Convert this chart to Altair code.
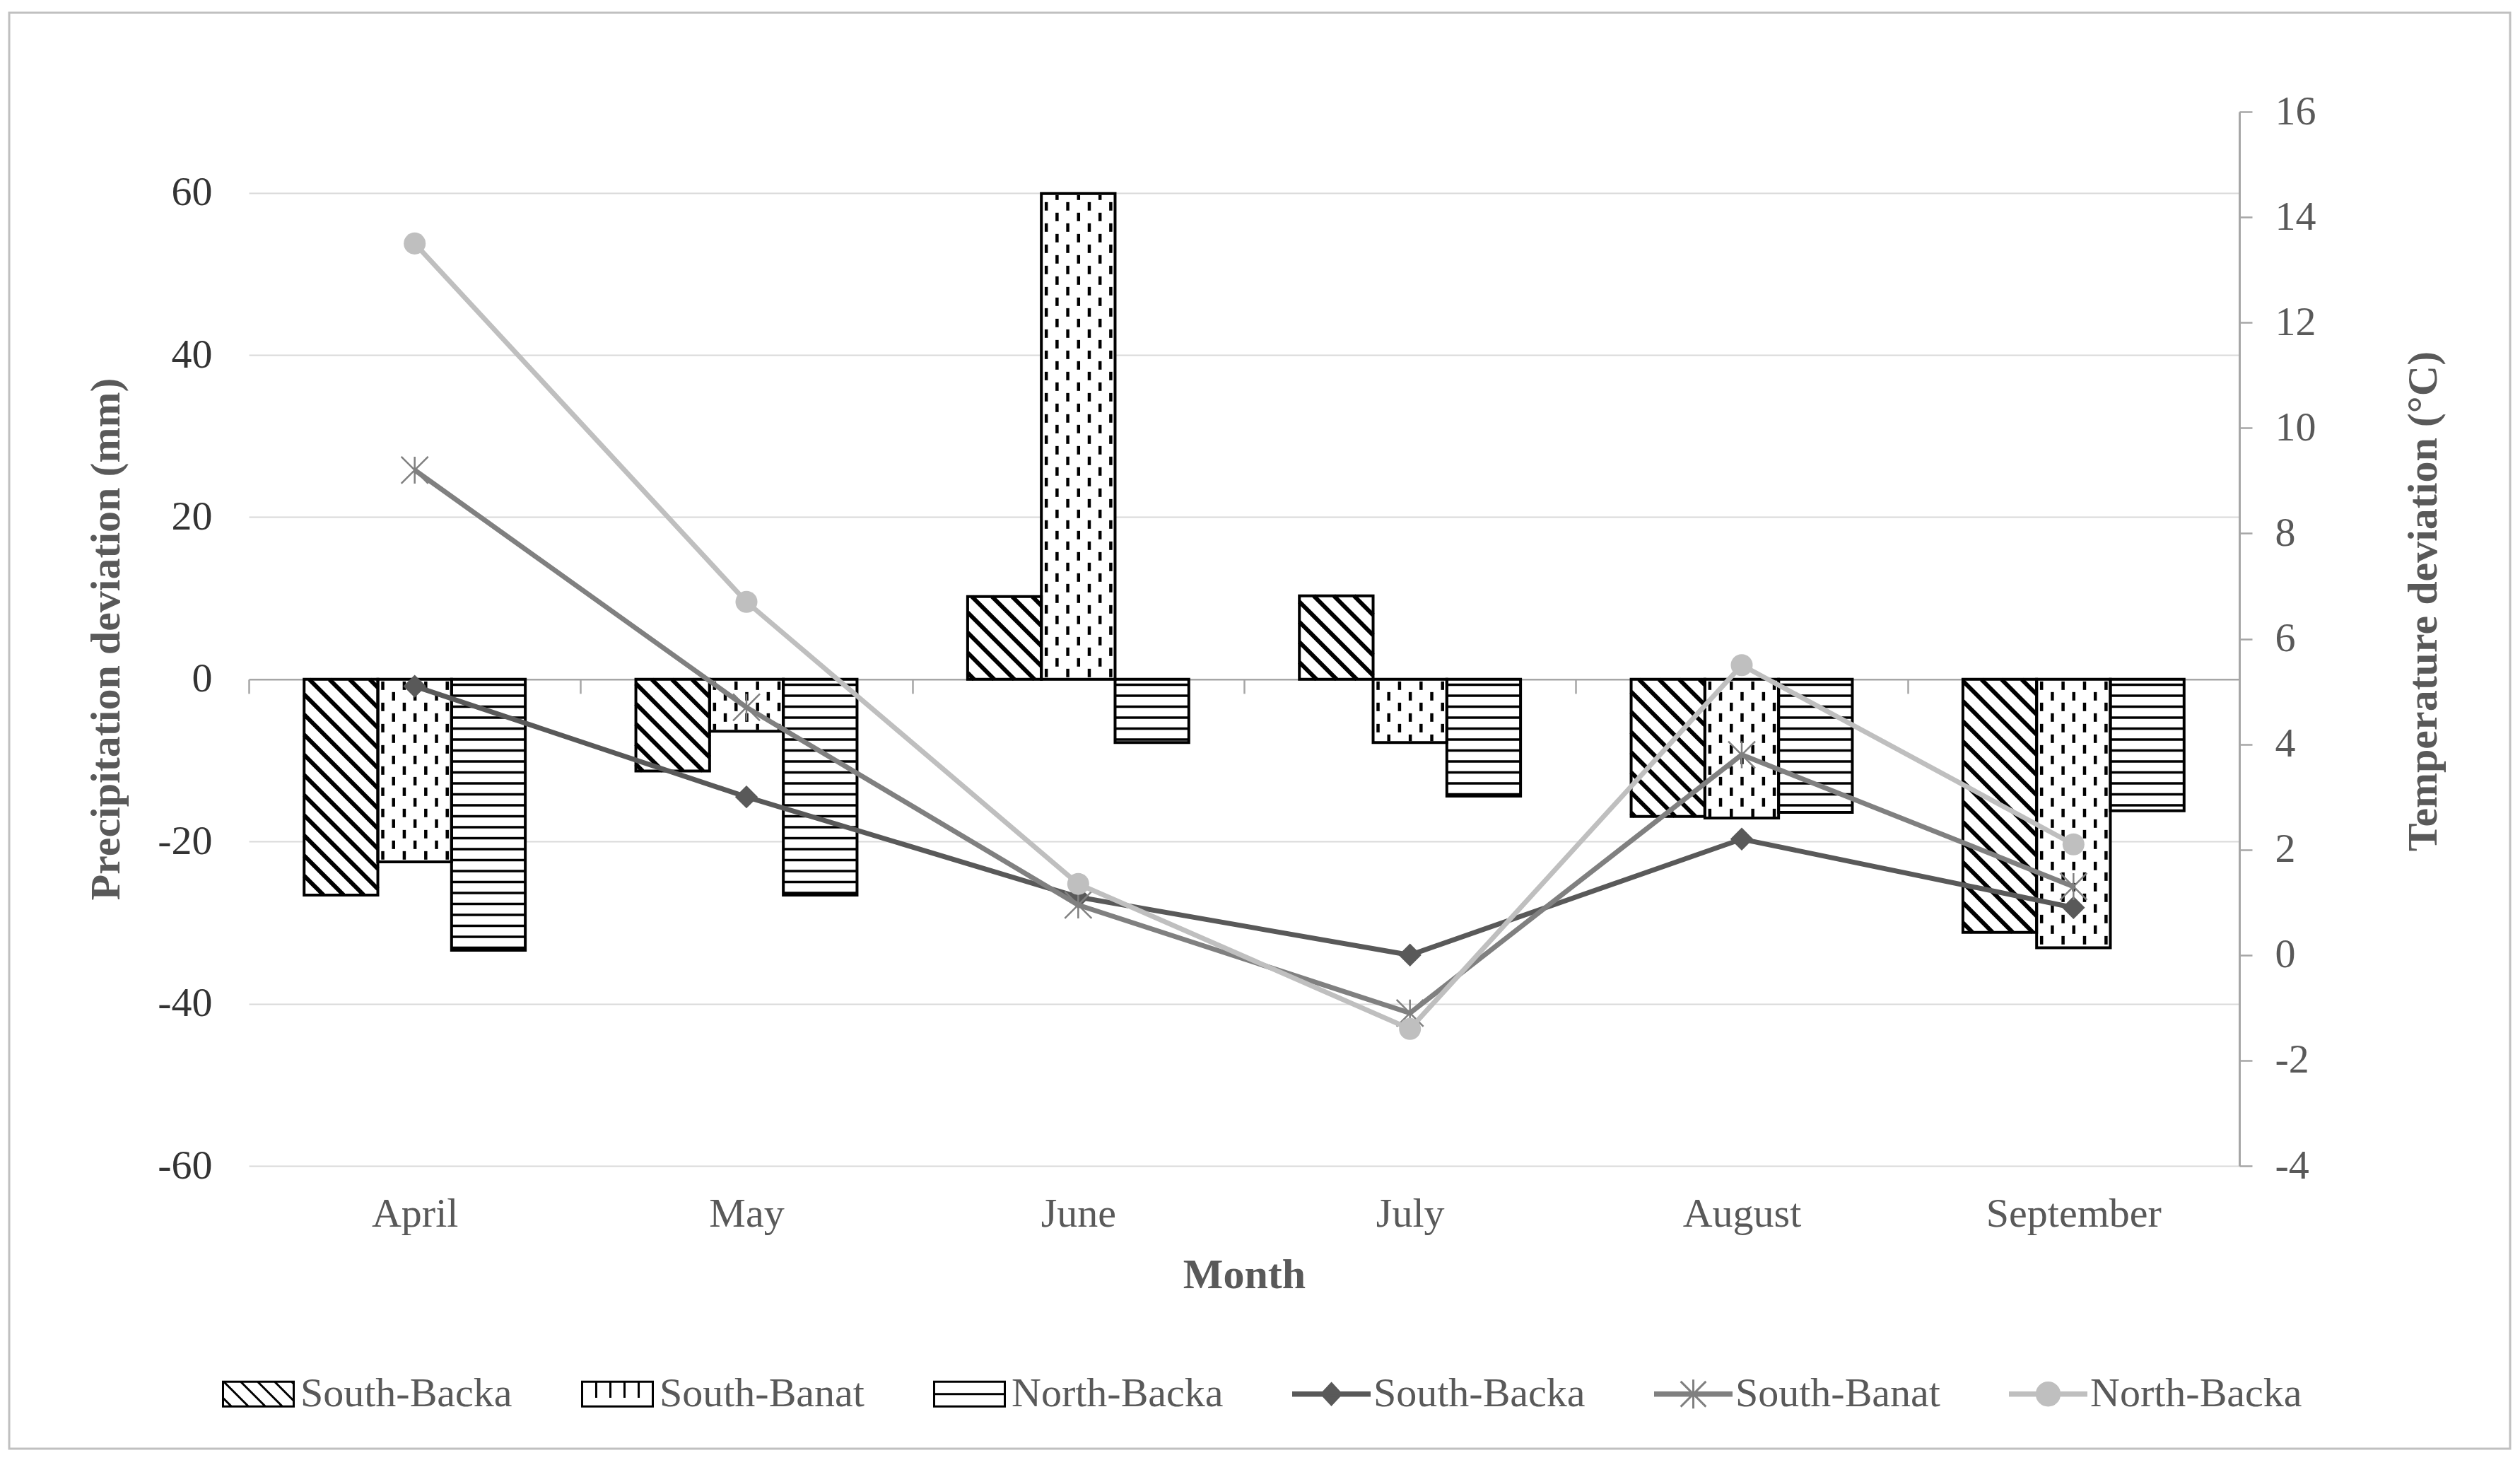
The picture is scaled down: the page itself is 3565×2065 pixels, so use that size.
import math
import altair as alt
import pandas as pd

# ---------------- data ----------------
months = ["April", "May", "June", "July", "August", "September"]
series = ["South-Backa", "South-Banat", "North-Backa"]

precip_south_backa = [-26.6, -11.3, 10.2, 10.3, -16.9, -31.2]
precip_south_banat = [-22.5, -6.4, 59.9, -7.8, -17.1, -33.1]
precip_north_backa = [-33.4, -26.6, -7.8, -14.4, -16.4, -16.2]

temp_south_backa = [5.1, 3.0, 1.1, 0.0, 2.2, 0.9]
temp_south_banat = [9.2, 4.7, 0.95, -1.1, 3.8, 1.3]
temp_north_backa = [13.5, 6.7, 1.35, -1.4, 5.5, 2.1]

precip_ticks = [-60, -40, -20, 0, 20, 40, 60]
temp_ticks = [-4, -2, 0, 2, 4, 6, 8, 10, 12, 14, 16]

# ---------------- layout / style ----------------
FONT = "Liberation Serif"
W, H = 2816, 1491
P_DOM = [-60, 70]
T_DOM = [-4, 16]
SX = W / len(months)                  # px per month unit
SY = H / (P_DOM[1] - P_DOM[0])        # px per mm
GROUP = 2 / 3
BAR = GROUP / 3
ZERO_FROM_BOTTOM = (0 - P_DOM[0]) / (P_DOM[1] - P_DOM[0]) * H
ZERO_FROM_TOP = H - ZERO_FROM_BOTTOM
AXGRAY = "#a6a6a6"
LINE_COLORS = ["#595959", "#808080", "#bfbfbf"]

precip = [precip_south_backa, precip_south_banat, precip_north_backa]
temps = [temp_south_backa, temp_south_banat, temp_north_backa]

# bar table
bar_rows = []
for k, vals in enumerate(precip):
    for i, v in enumerate(vals):
        x0 = i + 0.5 - GROUP / 2 + k * BAR
        bar_rows.append({"series": series[k], "month": months[i], "x0": x0, "x1": x0 + BAR, "v": v})
bars_df = pd.DataFrame(bar_rows)

# hatch patterns (derived from the bar table)
D_DIAG = 28.5
DASH_DX, DASH_PERIOD, DASH_LEN = 15.2, 30.0, 12.0
H_GAP = 15.5
diag, dash, hl = [], [], []
for r in bar_rows:
    k = series.index(r["series"])
    v = r["v"]
    X0, X1 = r["x0"] * SX, r["x1"] * SX
    sgn = 1 if v >= 0 else -1
    L = abs(v) * SY
    if k == 0:
        Ya, Yb = min(v, 0) * SY, max(v, 0) * SY
        c = math.ceil((X0 + Ya) / D_DIAG) * D_DIAG
        while c <= X1 + Yb:
            xs_, xe_ = max(X0, c - Yb), min(X1, c - Ya)
            if xe_ - xs_ > 1:
                diag.append({"x": xs_ / SX, "x2": xe_ / SX, "y": (c - xs_) / SY, "y2": (c - xe_) / SY})
            c += D_DIAG
    elif k == 1:
        j = 0
        while True:
            Xc = X0 + 7 + j * DASH_DX
            if Xc > X1 - 4:
                break
            d = 3 + (j % 2) * DASH_PERIOD / 2
            while d < L - 2:
                de = min(d + DASH_LEN, L - 2)
                if de - d > 2:
                    dash.append({"x": Xc / SX, "y": sgn * d / SY, "y2": sgn * de / SY})
                d += DASH_PERIOD
            j += 1
    else:
        d = H_GAP / 2
        while d < L - 2:
            hl.append({"x": X0 / SX, "x2": X1 / SX, "y": sgn * d / SY})
            d += H_GAP
diag_df, dash_df, hl_df = pd.DataFrame(diag), pd.DataFrame(dash), pd.DataFrame(hl)

xs = alt.Scale(domain=[0, len(months)], nice=False, zero=False)
ps = alt.Scale(domain=P_DOM, nice=False, zero=False)
ts = alt.Scale(domain=T_DOM, nice=False, zero=False)

# ---------------- axes ----------------
x_axis = alt.Axis(
    title="Month", orient="bottom", offset=-ZERO_FROM_BOTTOM,
    domain=True, domainColor=AXGRAY, domainWidth=2.5,
    ticks=True, tickBand="extent", tickSize=20, tickColor=AXGRAY, tickWidth=2.5,
    grid=False, labelAngle=0, labelBaseline="middle", labelLimit=2000,
    labelPadding=ZERO_FROM_BOTTOM + 68 - 20,
    labelFont=FONT, labelFontSize=58, labelColor="#595959",
    titleFont=FONT, titleFontSize=60, titleFontWeight="bold", titleColor="#595959",
    titleX=W / 2, titleY=1645 - ZERO_FROM_TOP, titleAlign="center", titleBaseline="middle",
)
left_axis = alt.Axis(
    title="Precipitation deviation (mm)", values=precip_ticks,
    grid=True, gridWidth=2,
    gridColor={"condition": {"test": "datum.value === 0", "value": "transparent"}, "value": "#d9d9d9"},
    domain=False, ticks=False, labelPadding=52, labelExpr="datum.value + ''",
    labelFont=FONT, labelFontSize=58, labelColor="#333333",
    titleFont=FONT, titleFontSize=60, titleFontWeight="bold", titleColor="#595959",
    titleAngle=270, titleX=-202, titleY=H / 2, titleAlign="center", titleBaseline="middle",
)
right_axis = alt.Axis(
    title="Temperature deviation (°C)", orient="right", values=temp_ticks, grid=False,
    domain=True, domainColor=AXGRAY, domainWidth=3,
    ticks=True, tickColor=AXGRAY, tickWidth=2.5, tickSize=18,
    labelPadding=32, labelExpr="datum.value + ''",
    labelFont=FONT, labelFontSize=58, labelColor="#595959",
    titleFont=FONT, titleFontSize=60, titleFontWeight="bold", titleColor="#595959",
    titleAngle=270, titleX=260, titleY=692, titleAlign="center", titleBaseline="middle",
)

# ---------------- layers ----------------
frame = alt.Chart(pd.DataFrame({"a": [0]})).mark_rect(
    fillOpacity=0, stroke="#c0c0c0", strokeWidth=3
).encode(x=alt.value(-339), x2=alt.value(W + 383), y=alt.value(-140), y2=alt.value(H + 400))

xaxis_layer = alt.Chart(pd.DataFrame({"month": months})).mark_bar(opacity=0).encode(
    x=alt.X("month:N", sort=months,
            scale=alt.Scale(type="band", domain=months, paddingInner=0, paddingOuter=0),
            axis=x_axis)
)

bar_fill = alt.Chart(bars_df).mark_rect(fill="white", strokeWidth=0).encode(
    x=alt.X("x0:Q", scale=xs, axis=None), x2="x1:Q",
    y=alt.Y("v:Q", scale=ps, axis=left_axis), y2=alt.datum(0),
)
diag_layer = alt.Chart(diag_df).mark_rule(color="black", strokeWidth=6).encode(
    x=alt.X("x:Q", scale=xs, axis=None), x2="x2:Q",
    y=alt.Y("y:Q", scale=ps, axis=None), y2="y2:Q",
)
dash_layer = alt.Chart(dash_df).mark_rule(color="black", strokeWidth=4.5).encode(
    x=alt.X("x:Q", scale=xs, axis=None),
    y=alt.Y("y:Q", scale=ps, axis=None), y2="y2:Q",
)
hl_layer = alt.Chart(hl_df).mark_rule(color="black", strokeWidth=3.5).encode(
    x=alt.X("x:Q", scale=xs, axis=None), x2="x2:Q",
    y=alt.Y("y:Q", scale=ps, axis=None),
)
bar_outline = alt.Chart(bars_df).mark_rect(
    fillOpacity=0, stroke="black", strokeWidth=4, strokeJoin="miter"
).encode(
    x=alt.X("x0:Q", scale=xs, axis=None), x2="x1:Q",
    y=alt.Y("v:Q", scale=ps, axis=None), y2=alt.datum(0),
)

ASTER = "M-1,-1L1,1M-1,1L1,-1M0,-1L0,1"
marker_specs = [
    dict(shape="diamond", filled=True, size=1050, strokeWidth=0),
    dict(shape=ASTER, filled=False, size=1444, strokeWidth=2.5),
    dict(shape="circle", filled=True, size=962, strokeWidth=0),
]
temp_layers = []
for k, vals in enumerate(temps):
    df = pd.DataFrame({"xm": [i + 0.5 for i in range(len(months))], "t": vals, "month": months})
    line = alt.Chart(df).mark_line(color=LINE_COLORS[k], strokeWidth=7).encode(
        x=alt.X("xm:Q", scale=xs, axis=None),
        y=alt.Y("t:Q", scale=ts, axis=right_axis if k == 0 else None),
    )
    pts = alt.Chart(df).mark_point(color=LINE_COLORS[k], opacity=1, **marker_specs[k]).encode(
        x=alt.X("xm:Q", scale=xs, axis=None),
        y=alt.Y("t:Q", scale=ts, axis=None),
    )
    temp_layers += [line, pts]

# ---------------- legend (symbols as custom paths) ----------------
U = 54.0
bw, bh = 50 / U, 17.5 / U


def n(v):
    return f"{v:.3f}"


box = f"M{n(-bw)},{n(-bh)}L{n(bw)},{n(-bh)}L{n(bw)},{n(bh)}L{n(-bw)},{n(bh)}Z"
sp = 24 / U
dg = ""
c = -bw - bh + sp / 2
while c < bw + bh:
    x_s, x_e = max(-bw, c - bh), min(bw, c + bh)
    if x_e - x_s > 0.02:
        dg += f"M{n(x_s)},{n(x_s - c)}L{n(x_e)},{n(x_e - c)}"
    c += sp
ds = "".join(f"M{n(-bw + kk * 2 * bw / 5)},{n(-bh)}L{n(-bw + kk * 2 * bw / 5)},{n(bh * 0.3)}" for kk in range(1, 5))
hz = f"M{n(-bw)},0L{n(bw)},0"
lr = "M-1,-0.04L1,-0.04L1,0.04L-1,0.04Z"
leg_shapes = [
    box + dg,
    box + ds,
    box + hz,
    lr + "M0,-0.28L0.26,0L0,0.28L-0.26,0Z",
    lr + "M-0.33,-0.33L0.33,0.33M-0.33,0.33L0.33,-0.33M0,-0.38L0,0.38",
    lr + "M0.3,0A0.3,0.3,0,1,1,-0.3,0A0.3,0.3,0,1,1,0.3,0Z",
]
leg_keys = ["P " + s for s in series] + ["T " + s for s in series]
leg_fills = ["white", "white", "white"] + LINE_COLORS
leg_strokes = ["black", "black", "black"] + LINE_COLORS

leg = alt.Legend(
    title=None, orient="none", legendX=-42, legendY=1758, direction="horizontal",
    columns=6, columnPadding=92, labelOffset=4, padding=0,
    labelFont=FONT, labelFontSize=58, labelColor="#595959", labelLimit=1000,
    symbolSize=U * U * 4, symbolStrokeWidth=3, labelExpr="slice(datum.label, 2)",
)
legend_layer = alt.Chart(pd.DataFrame({"key": leg_keys})).transform_filter("false").mark_point(
    opacity=1, strokeWidth=3
).encode(
    shape=alt.Shape("key:N", scale=alt.Scale(domain=leg_keys, range=leg_shapes), legend=leg),
    fill=alt.Fill("key:N", scale=alt.Scale(domain=leg_keys, range=leg_fills), legend=leg),
    stroke=alt.Stroke("key:N", scale=alt.Scale(domain=leg_keys, range=leg_strokes), legend=leg),
)

chart = alt.layer(
    frame, xaxis_layer, bar_fill, diag_layer, dash_layer, hl_layer, bar_outline,
    *temp_layers, legend_layer,
).resolve_scale(x="independent", y="independent").properties(
    width=W, height=H,
    autosize=alt.AutoSizeParams(type="none"),
    padding={"left": 344, "top": 150, "right": 385, "bottom": 406},
).configure(font=FONT, background="white").configure_view(stroke=None)

chart.save("out.html", embed_options={"renderer": "svg", "actions": False})
